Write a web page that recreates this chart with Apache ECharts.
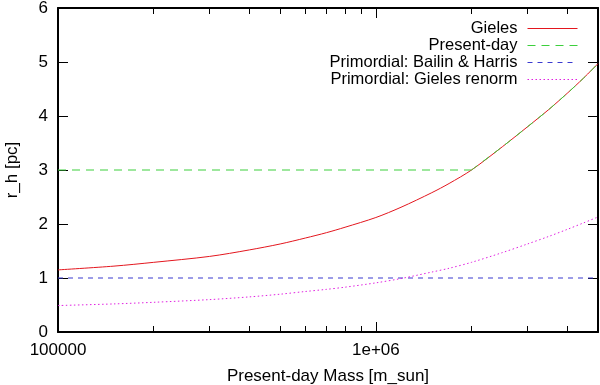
<!DOCTYPE html>
<html>
<head>
<meta charset="utf-8">
<script src="https://cdn.jsdelivr.net/npm/echarts@6/dist/echarts.min.js"></script>
<style>
  html, body { margin: 0; padding: 0; background: #fff; }
  #chart { width: 600px; height: 385px; }
</style>
</head>
<body>
<div id="chart"></div>
<script>
// values
const masses = [1e5, 1.5e5, 2e5, 3e5, 4e5, 5e5, 6e5, 7e5, 8e5, 1e6, 1.2e6, 1.5e6, 1.7e6, 2e6, 2.5e6, 3e6, 3.5e6, 4e6, 4.5e6, 5e6]
const gieles = [1.15, 1.22, 1.29, 1.40, 1.52, 1.63, 1.74, 1.84, 1.94, 2.12, 2.31, 2.58, 2.75, 3.00, 3.43, 3.80, 4.12, 4.42, 4.70, 4.97]
const renorm = [0.49, 0.52, 0.55, 0.60, 0.65, 0.70, 0.75, 0.79, 0.83, 0.91, 0.99, 1.11, 1.18, 1.29, 1.47, 1.63, 1.77, 1.90, 2.02, 2.13]
// present-day: flat part, then it follows the Gieles curve
const presentFlatMass = [1e5, 2e6]
const presentFlat = [3.00, 3.00]
const presentRiseMass = [2e6, 2.5e6, 3e6, 3.5e6, 4e6, 4.5e6, 5e6]
const presentRise = [3.00, 3.43, 3.80, 4.12, 4.42, 4.70, 4.97]
const bailinMass = [1e5, 5e6]
const bailin = [1, 1]

const xTickValues = [1e5, 1e6]
const xTickLabels = ['100000', '1e+06']
const xMinorTicks = [2e5, 3e5, 4e5, 5e5, 6e5, 7e5, 8e5, 9e5, 2e6, 3e6, 4e6]

const seriesNames = ['Gieles', 'Present-day', 'Primordial: Bailin & Harris', 'Primordial: Gieles renorm']

const pairs = (xs, ys) => xs.map((x, i) => [x, ys[i]])
const font = 'Liberation Sans, Arial, Helvetica, sans-serif'
const fs = 17
const tickStyle = { color: '#000', width: 1 }

const chart = echarts.init(document.getElementById('chart'))

const baseX = {
  type: 'log',
  logBase: 10,
  min: 1e5,
  max: 5e6,
  splitLine: { show: false },
  axisLine: { show: true, lineStyle: { color: '#000', width: 2 } }
}

const green = { color: '#3ccf3c', width: 1, type: [8, 6] }

chart.setOption({
  animation: false,
  grid: { left: 58, right: 2, top: 8, bottom: 53, outerBoundsMode: 'none' },
  legend: {
    orient: 'vertical',
    align: 'right',
    right: 17,
    top: 15,
    itemWidth: 50,
    itemHeight: 14,
    itemGap: 0,
    data: seriesNames,
    itemStyle: { opacity: 0 },
    lineStyle: { width: 1 },
    textStyle: { fontSize: 16.5, color: '#000', fontFamily: font, padding: [0, 5, 0, 0] }
  },
  xAxis: [
    Object.assign({}, baseX, {
      position: 'bottom',
      name: 'Present-day Mass [m_sun]',
      nameLocation: 'middle',
      nameGap: 36,
      nameTextStyle: { fontSize: fs, color: '#000', fontFamily: font },
      axisTick: { show: true, inside: true, length: 10, customValues: xTickValues, lineStyle: tickStyle },
      axisLabel: {
        customValues: xTickValues,
        margin: 10,
        fontSize: fs,
        color: '#000',
        fontFamily: font,
        formatter: v => xTickLabels[xTickValues.indexOf(v)] || ''
      }
    }),
    Object.assign({}, baseX, {
      position: 'bottom',
      axisLine: { show: false },
      axisTick: { show: true, inside: true, length: 6, customValues: xMinorTicks, lineStyle: tickStyle },
      axisLabel: { show: false }
    }),
    Object.assign({}, baseX, {
      position: 'top',
      axisTick: { show: true, inside: true, length: 10, customValues: xTickValues, lineStyle: tickStyle },
      axisLabel: { show: false }
    }),
    Object.assign({}, baseX, {
      position: 'top',
      axisLine: { show: false },
      axisTick: { show: true, inside: true, length: 6, customValues: xMinorTicks, lineStyle: tickStyle },
      axisLabel: { show: false }
    })
  ],
  yAxis: [
    {
      type: 'value',
      min: 0,
      max: 6,
      interval: 1,
      position: 'left',
      name: 'r_h [pc]',
      nameLocation: 'middle',
      nameGap: 37,
      nameTextStyle: { fontSize: fs, color: '#000', fontFamily: font },
      splitLine: { show: false },
      axisLine: { show: true, lineStyle: { color: '#000', width: 2 } },
      axisTick: { show: true, inside: true, length: 10, lineStyle: tickStyle },
      axisLabel: { margin: 10, fontSize: fs, color: '#000', fontFamily: font }
    },
    {
      type: 'value',
      min: 0,
      max: 6,
      interval: 1,
      position: 'right',
      splitLine: { show: false },
      axisLine: { show: true, lineStyle: { color: '#000', width: 2 } },
      axisTick: { show: true, inside: true, length: 10, lineStyle: tickStyle },
      axisLabel: { show: false }
    }
  ],
  series: [
    {
      name: seriesNames[0],
      type: 'line',
      data: pairs(masses, gieles),
      smooth: 0.3,
      symbol: 'none',
      lineStyle: { color: '#e3161e', width: 1 },
      itemStyle: { color: '#e3161e' },
      z: 3
    },
    {
      name: seriesNames[1],
      type: 'line',
      data: pairs(presentFlatMass, presentFlat),
      symbol: 'none',
      lineStyle: green,
      itemStyle: { color: '#3ccf3c' },
      z: 4
    },
    {
      name: seriesNames[1],
      type: 'line',
      data: pairs(presentRiseMass, presentRise),
      smooth: 0.3,
      symbol: 'none',
      lineStyle: green,
      itemStyle: { color: '#3ccf3c' },
      z: 4
    },
    {
      name: seriesNames[2],
      type: 'line',
      data: pairs(bailinMass, bailin),
      symbol: 'none',
      lineStyle: { color: '#3a3ad0', width: 1, type: [5, 5] },
      itemStyle: { color: '#3a3ad0' }
    },
    {
      name: seriesNames[3],
      type: 'line',
      data: pairs(masses, renorm),
      smooth: 0.3,
      symbol: 'none',
      lineStyle: { color: '#e020e0', width: 1, type: [1.5, 2.5] },
      itemStyle: { color: '#e020e0' }
    }
  ]
})
</script>
</body>
</html>
